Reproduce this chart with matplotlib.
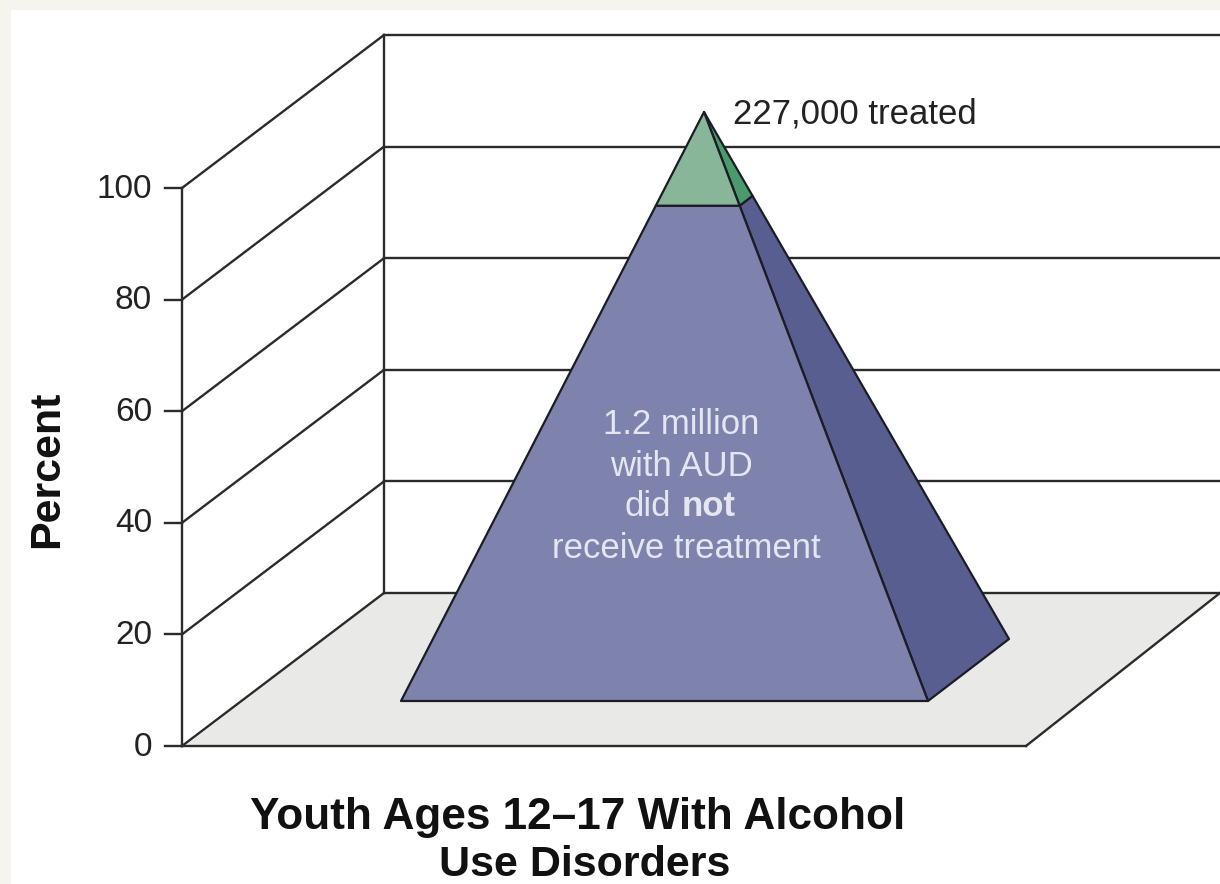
import matplotlib
matplotlib.use("Agg")
from matplotlib import pyplot as plt
from matplotlib.patches import Polygon, Rectangle

plt.rcParams['font.family'] = ['Liberation Sans', 'DejaVu Sans']

# data
percent_ticks = [0, 20, 40, 60, 80, 100]
treated = 227000
untreated = 1200000
treated_label = "227,000 treated"
ylabel = "Percent"
xlabel = ["Youth Ages 12\u201317 With Alcohol", "Use Disorders"]

# colours
LINE = "#2b2b2b"
MARGIN = "#f5f4ef"
FLOOR = "#e9e9e8"
BLUE_FRONT = "#7d83ad"
BLUE_SIDE = "#585f90"
GREEN_FRONT = "#88b699"
GREEN_SIDE = "#4b9a6c"
TEXT_LIGHT = "#e4e6f0"

# drawing geometry, in pixels of the picture
Y0, PX_PER_PCT = 746, 5.58
X_WALL, DX, DY = 182, 202, -153
APEX = (704, 112)
FRONT_L, FRONT_R, BACK_R = (401, 701), (928, 701), (1009, 639)


def ypos(pct):
    return Y0 - pct * PX_PER_PCT


def along(p, share):
    # point at a given share of the way from the apex to p
    return (APEX[0] + (p[0] - APEX[0]) * share, APEX[1] + (p[1] - APEX[1]) * share)


fig = plt.figure(figsize=(12.2, 8.84), dpi=100, facecolor=MARGIN)
ax = fig.add_axes([0, 0, 1, 1])
ax.set_xlim(0, 1220)
ax.set_ylim(884, 0)
ax.axis("off")
ax.add_patch(Rectangle((11, 10), 1209, 874, fc="white", ec="none", zorder=0))

# floor
ax.add_patch(Polygon([(X_WALL + 3, Y0), (1026, Y0), (1220, ypos(0) + DY), (X_WALL + DX, ypos(0) + DY)],
                     closed=True, fc=FLOOR, ec="none", zorder=1))
ax.plot([1026, 1220], [Y0, ypos(0) + DY], color=LINE, lw=1.7, zorder=2)

# walls and gridlines
ax.plot([X_WALL, X_WALL], [ypos(100), ypos(0)], color=LINE, lw=1.7, zorder=2)
ax.plot([X_WALL + DX, X_WALL + DX], [ypos(100) + DY, ypos(0) + DY], color=LINE, lw=1.7, zorder=2)
for p in percent_ticks:
    y = ypos(p)
    ax.plot([165, X_WALL], [y, y], color=LINE, lw=1.7, zorder=2)
    ax.plot([X_WALL, X_WALL + DX], [y, y + DY], color=LINE, lw=1.7, zorder=2)
    ax.plot([X_WALL + DX, 1220], [y + DY, y + DY], color=LINE, lw=1.7, zorder=2)
    ax.text(152, y + 1, str(p), ha="right", va="center", fontsize=24, color="#222222")
ax.plot([X_WALL, 1026], [Y0, Y0], color=LINE, lw=1.7, zorder=2)

# pyramid, split by the share that was treated
share = treated / (treated + untreated)
sl, sr, sb = along(FRONT_L, share), along(FRONT_R, share), along(BACK_R, share)
for pts, col in [([sr, FRONT_R, BACK_R, sb], BLUE_SIDE),
                 ([APEX, sr, sb], GREEN_SIDE),
                 ([sl, FRONT_L, FRONT_R, sr], BLUE_FRONT),
                 ([APEX, sl, sr], GREEN_FRONT)]:
    ax.add_patch(Polygon(pts, closed=True, fc=col, ec="#1c1c24", lw=1.6, joinstyle="round", zorder=3))

# labels
ax.text(733, 114, treated_label, ha="left", va="center", fontsize=25, color="#222222")
ax.text(681, 424, "1.2 million", ha="center", va="center", fontsize=25, color=TEXT_LIGHT, zorder=4)
ax.text(681, 466, "with AUD", ha="center", va="center", fontsize=25, color=TEXT_LIGHT, zorder=4)
ax.text(671, 507, "did", ha="right", va="center", fontsize=25, color=TEXT_LIGHT, zorder=4)
ax.text(682, 507, "not", ha="left", va="center", fontsize=25, fontweight="bold", color=TEXT_LIGHT, zorder=4)
ax.text(686, 549, "receive treatment", ha="center", va="center", fontsize=25, color=TEXT_LIGHT, zorder=4)

ax.text(47, 469, ylabel, rotation=90, ha="center", va="center", fontsize=31, fontweight="bold", color="#111111")
ax.text(578, 817, xlabel[0], ha="center", va="center", fontsize=31.8, fontweight="bold", color="#111111")
ax.text(585, 865, xlabel[1], ha="center", va="center", fontsize=31, fontweight="bold", color="#111111")

fig.savefig("out.png", dpi=100, facecolor=MARGIN)
